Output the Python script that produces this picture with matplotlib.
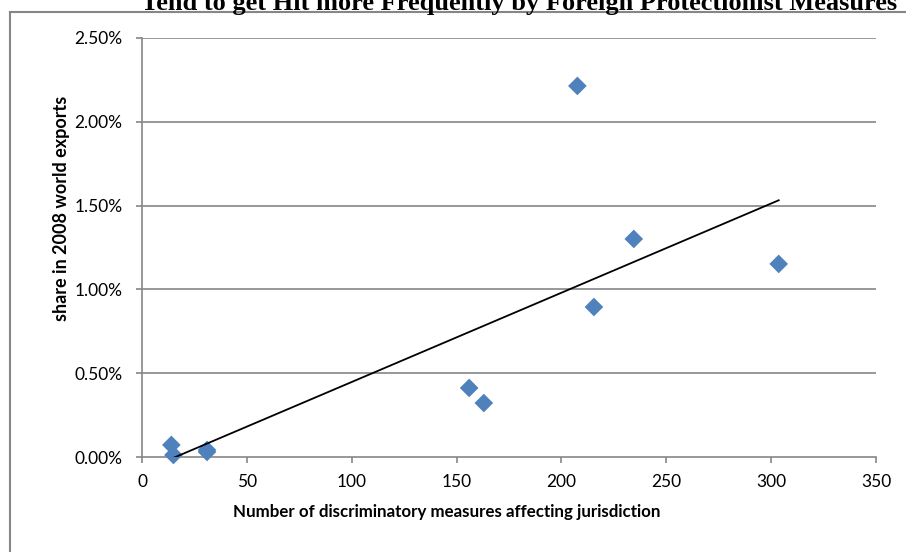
import numpy as np
import matplotlib
matplotlib.use("Agg")
import matplotlib.pyplot as plt
from matplotlib.lines import Line2D
from matplotlib.ticker import FuncFormatter

# Data (number of measures, share in 2008 world exports in %)
measures = [14, 15, 31, 31, 156, 163, 207.6, 215.5, 234.5, 303.6]
share_pct = [0.072, 0.012, 0.042, 0.030, 0.412, 0.322, 2.214, 0.895, 1.301, 1.152]
x_ticks = [0, 50, 100, 150, 200, 250, 300, 350]
y_ticks = [0.0, 0.5, 1.0, 1.5, 2.0, 2.5]
title = "Tend to get Hit more Frequently by Foreign Protectionist Measures"
xlabel = "Number of discriminatory measures affecting jurisdiction"
ylabel = "share in 2008 world exports"

W, H = 906, 552
fig = plt.figure(figsize=(W / 100, H / 100), dpi=100)
ax = fig.add_axes([142 / W, 1 - 457 / H, (876 - 142) / W, (457 - 38) / H])

grid_c = "#868686"
tick_font = "Lato"

ax.set_xlim(0, 350)
ax.set_ylim(0, 2.5)
ax.set_xticks(x_ticks)
ax.set_yticks(y_ticks)
ax.yaxis.set_major_formatter(FuncFormatter(lambda v, p: f"{v:.2f}%"))
ax.xaxis.set_major_formatter(FuncFormatter(lambda v, p: f"{v:g}"))

for y in y_ticks[1:]:
    ax.axhline(y, color=grid_c, lw=1.2, zorder=1)

for s in ["top", "right"]:
    ax.spines[s].set_visible(False)
for s in ["left", "bottom"]:
    ax.spines[s].set_color(grid_c)
    ax.spines[s].set_linewidth(1.2)

ax.tick_params(axis="both", direction="out", length=4.5, width=1.2, color=grid_c,
               labelsize=12.5, labelcolor="black")
ax.tick_params(axis="y", pad=9.5)
ax.tick_params(axis="x", pad=8)
for lab in ax.get_xticklabels() + ax.get_yticklabels():
    lab.set_fontfamily(tick_font)

ax.scatter(measures, share_pct, marker="D", s=9.5 ** 2, color="#4F81BD",
           edgecolors="none", zorder=3, clip_on=False)

# linear trendline
xm = np.array(measures)
ym = np.array(share_pct)
k, b = np.polyfit(xm, ym, 1)
xs = np.array([xm.min(), xm.max()])
ax.plot(xs, k * xs + b, color="black", lw=1.3, zorder=4)

fig.text(447 / W, 1 - 512 / H, xlabel, ha="center", va="center",
         fontsize=12.2, fontweight="bold", fontfamily=tick_font)
fig.text(62 / W, 1 - 208 / H, ylabel, ha="center", va="center", rotation=90,
         fontsize=13, fontweight="bold", fontfamily=tick_font)

fig.text(519 / W, 1 - 10 / H, title, ha="center", va="baseline",
         fontsize=19, fontweight="bold", fontfamily="Liberation Serif")

# chart frame
fig.add_artist(Line2D([10 / W, 10 / W], [1 - 12 / H, 0], transform=fig.transFigure,
                      color=grid_c, lw=1.5))
fig.add_artist(Line2D([10 / W, 1], [1 - 12 / H, 1 - 12 / H], transform=fig.transFigure,
                      color=grid_c, lw=1.5))

fig.savefig("out.png", dpi=100)
